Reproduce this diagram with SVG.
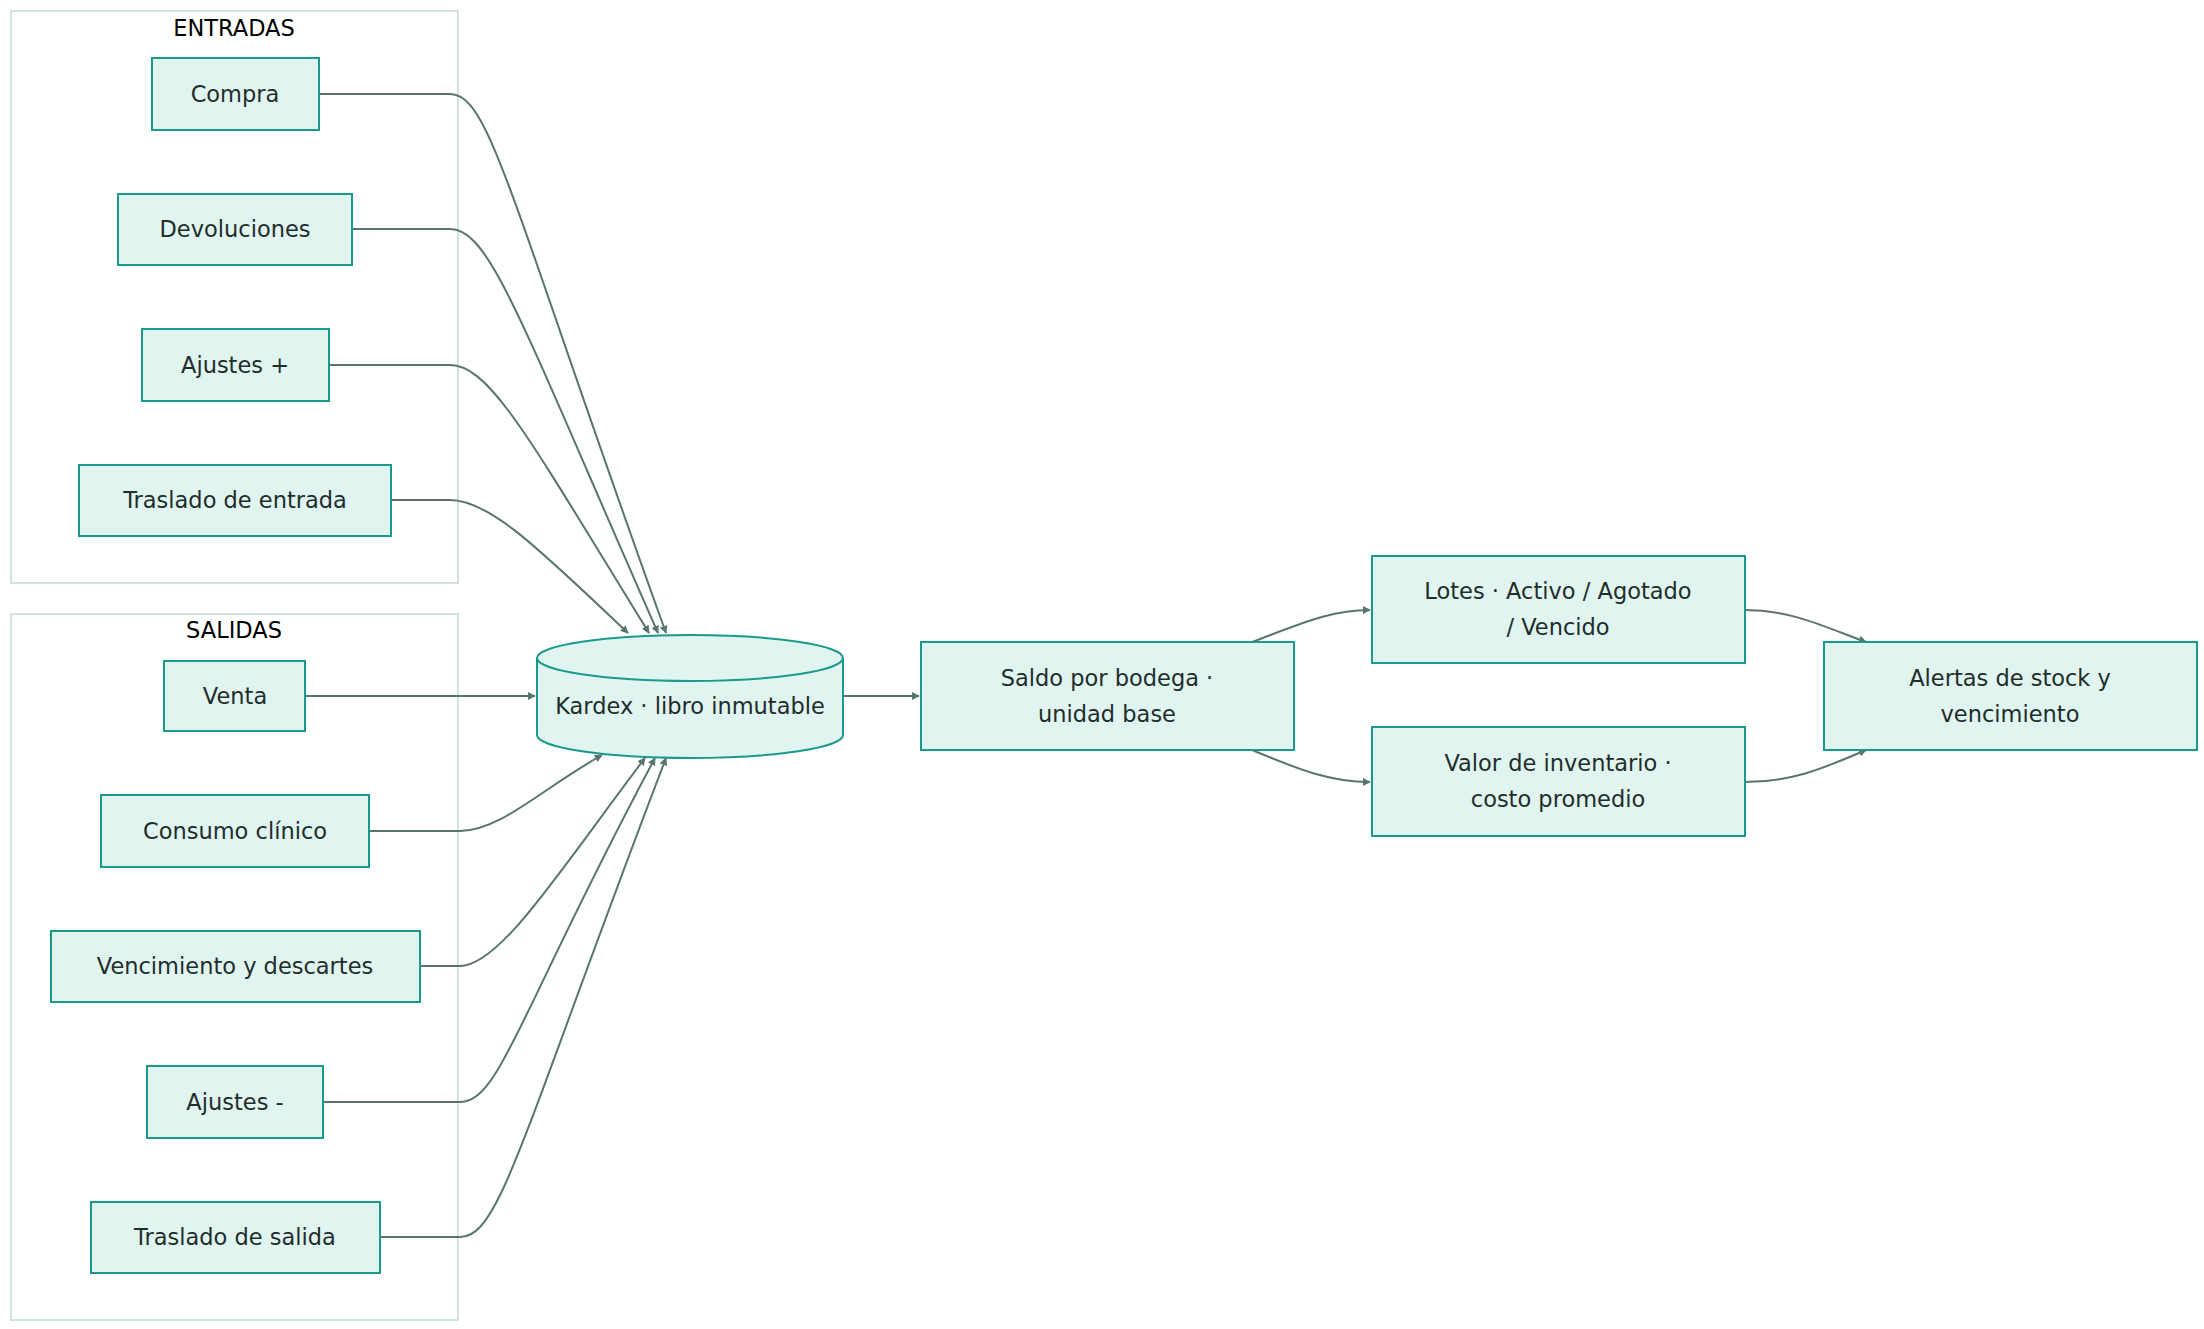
<svg xmlns="http://www.w3.org/2000/svg" width="2204" height="1329" viewBox="0 0 2204 1329">
<style>
.c{fill:none;stroke:#cfe3df;stroke-width:2}
.n rect,.n path,.n ellipse{fill:#e0f4f0;stroke:#1a9a8a;stroke-width:2}
text{font-family:"DejaVu Sans",sans-serif;font-size:22.5px;fill:#1f2d2b;text-anchor:middle;dominant-baseline:central}
.t{fill:#000}
.e path{fill:none;stroke:#5a7571;stroke-width:2;marker-end:url(#a)}
</style>
<defs><marker id="a" viewBox="0 0 10 10" refX="9" refY="5" markerWidth="8" markerHeight="8" orient="auto" markerUnits="userSpaceOnUse"><path d="M0,0L10,5L0,10z" fill="#5a7571"/></marker></defs>
<rect width="2204" height="1329" fill="#fff"/>
<g id="entradas"><rect class="c" x="11" y="11" width="447" height="572"/><text class="t" x="234" y="28">ENTRADAS</text></g>
<g id="salidas"><rect class="c" x="11" y="614" width="447" height="706"/><text class="t" x="234" y="630">SALIDAS</text></g>
<g class="e" id="edges">
<path d="M319,94H450C490,94 510,200 666,633"/>
<path d="M352,229H450C490,229 520,320 658,633"/>
<path d="M329,365H450C490,365 530,440 649,633"/>
<path d="M391,500H450C490,500 540,550 628,633"/>
<path d="M305,696H535"/>
<path d="M369,831H460C500,831 540,790 602,755"/>
<path d="M420,966H460C500,966 560,870 645,758"/>
<path d="M323,1102H460C500,1102 520,1010 655,758"/>
<path d="M380,1237H460C500,1237 520,1140 666,758"/>
<path d="M843,696H919"/>
<path d="M1252,642C1300,624 1330,610 1370,610"/>
<path d="M1252,750C1300,770 1330,782 1370,782"/>
<path d="M1745,610C1790,610 1820,625 1866,642"/>
<path d="M1745,782C1790,782 1820,770 1866,750"/>
</g>
<g class="n" id="compra"><rect x="152" y="58" width="167" height="72"/><text x="235" y="94">Compra</text></g>
<g class="n" id="devoluciones"><rect x="118" y="194" width="234" height="71"/><text x="235" y="229">Devoluciones</text></g>
<g class="n" id="ajustesmas"><rect x="142" y="329" width="187" height="72"/><text x="235" y="365">Ajustes +</text></g>
<g class="n" id="trasladoentrada"><rect x="79" y="465" width="312" height="71"/><text x="235" y="500">Traslado de entrada</text></g>
<g class="n" id="venta"><rect x="164" y="661" width="141" height="70"/><text x="235" y="696">Venta</text></g>
<g class="n" id="consumo"><rect x="101" y="795" width="268" height="72"/><text x="235" y="831">Consumo clínico</text></g>
<g class="n" id="vencimiento"><rect x="51" y="931" width="369" height="71"/><text x="235" y="966">Vencimiento y descartes</text></g>
<g class="n" id="ajustesmenos"><rect x="147" y="1066" width="176" height="72"/><text x="235" y="1102">Ajustes -</text></g>
<g class="n" id="trasladosalida"><rect x="91" y="1202" width="289" height="71"/><text x="235" y="1237">Traslado de salida</text></g>
<g class="n" id="kardex"><path d="M537,658A153,23 0 0 1 843,658V735A153,23 0 0 1 537,735Z"/><path d="M537,658A153,23 0 0 0 843,658"/><text x="690" y="706">Kardex · libro inmutable</text></g>
<g class="n" id="saldo"><rect x="921" y="642" width="373" height="108"/><text x="1107" y="678">Saldo por bodega ·</text><text x="1107" y="714">unidad base</text></g>
<g class="n" id="lotes"><rect x="1372" y="556" width="373" height="107"/><text x="1558" y="591">Lotes · Activo / Agotado</text><text x="1558" y="627">/ Vencido</text></g>
<g class="n" id="valor"><rect x="1372" y="727" width="373" height="109"/><text x="1558" y="763">Valor de inventario ·</text><text x="1558" y="799">costo promedio</text></g>
<g class="n" id="alertas"><rect x="1824" y="642" width="373" height="108"/><text x="2010" y="678">Alertas de stock y</text><text x="2010" y="714">vencimiento</text></g>
</svg>
